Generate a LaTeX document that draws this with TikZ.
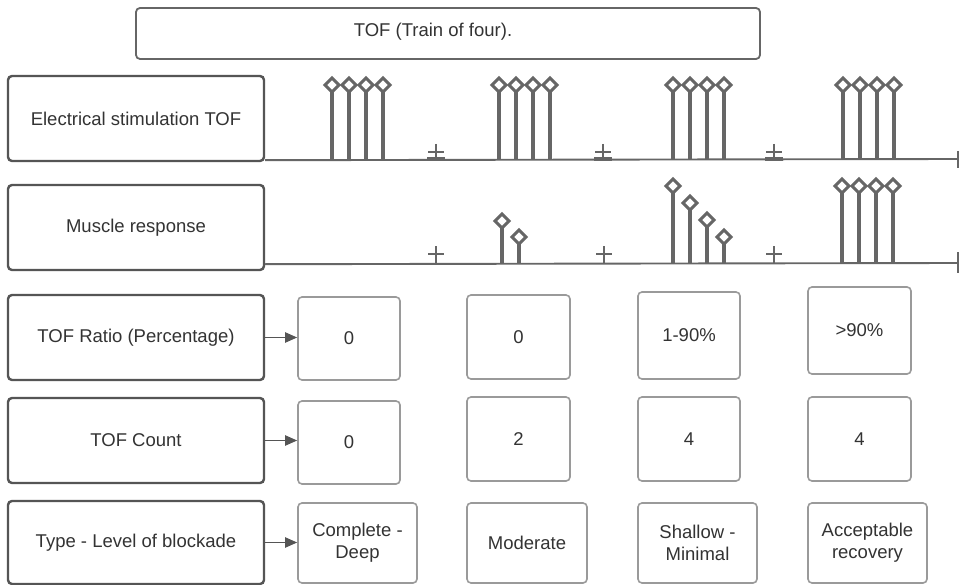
\documentclass[tikz,border=0pt]{standalone}
\usepackage{fontspec}
\setmainfont{Liberation Sans}
\usetikzlibrary{arrows.meta}
\definecolor{leftc}{HTML}{555555}
\definecolor{valc}{HTML}{9A9A9A}
\definecolor{stemc}{HTML}{666666}
\definecolor{txtc}{HTML}{333333}
\tikzset{
  lbl/.style={font=\fontsize{18.5}{22}\selectfont, text=txtc, align=center, inner sep=0pt},
  leftbox/.style={lbl, draw=leftc, line width=2.4pt, rounded corners=4pt, minimum width=256pt, minimum height=85pt},
  valbox/.style={lbl, draw=valc, line width=1.6pt, rounded corners=4pt},
  topbox/.style={draw=stemc, line width=1.8pt, rounded corners=4pt, minimum width=624pt, minimum height=51pt, inner sep=0pt},
  axisline/.style={draw=stemc, line width=1.9pt},
  stemline/.style={draw=stemc, line width=3.4pt},
  markline/.style={draw=stemc, line width=1.8pt},
  arrowline/.style={draw=leftc, line width=1.9pt, -{Triangle[length=12pt,width=10pt]}},
}
\newcommand{\stemat}[2]{%
  \draw[stemline] (#1,#2+7) -- (#1,\basey);
  \draw[stemc, line width=3pt, fill=white, line join=miter] (#1-7,#2) -- (#1,#2-7) -- (#1+7,#2) -- (#1,#2+7) -- cycle;
}
\begin{document}
\begin{tikzpicture}[x=1pt,y=-1pt]
\useasboundingbox (0,0) rectangle (960,585);
\fill[white] (0,0) rectangle (960,585);

% title
\node[topbox] (title) at (448,33.5) {};
\node[lbl] (titletext) at (433,32) {TOF (Train of four).};

% left column
\node[leftbox] (elec) at (136,118.5) {Electrical stimulation TOF};
\node[leftbox] (musc) at (136,227.5) {Muscle response};
\node[leftbox] (ratio) at (136,337.5) {TOF Ratio (Percentage)};
\node[leftbox] (count) at (136,440.5) {TOF Count};
\node[leftbox, minimum height=83pt] (type) at (136,542.5) {Type - Level of blockade};

% ratio row
\node[valbox, minimum width=102pt, minimum height=83pt] (r1) at (349,338.5) {0};
\node[valbox, minimum width=103pt, minimum height=84pt] (r2) at (518.5,337) {0};
\node[valbox, minimum width=102pt, minimum height=87pt] (r3) at (689,335.5) {1-90\%};
\node[valbox, minimum width=103pt, minimum height=87pt] (r4) at (859.5,330.5) {>90\%};

% count row
\node[valbox, minimum width=102pt, minimum height=83pt] (c1) at (349,442.5) {0};
\node[valbox, minimum width=103pt, minimum height=84pt] (c2) at (518.5,439) {2};
\node[valbox, minimum width=102pt, minimum height=84pt] (c3) at (689,439) {4};
\node[valbox, minimum width=103pt, minimum height=84pt] (c4) at (859.5,439) {4};

% type row
\node[valbox, minimum width=119pt, minimum height=80pt] (t1) at (357.5,543) {Complete -\\Deep};
\node[valbox, minimum width=120pt, minimum height=80pt] (t2) at (527,543) {Moderate};
\node[valbox, minimum width=119pt, minimum height=80pt] (t3) at (697.5,543) {Shallow -\\Minimal};
\node[valbox, minimum width=119pt, minimum height=80pt] (t4) at (867.5,543) {Acceptable\\recovery};

% arrows
\draw[arrowline] (ratio.east) -- (ratio.east -| r1.west);
\draw[arrowline] (count.east) -- (count.east -| c1.west);
\draw[arrowline] (type.east) -- (type.east -| t1.west);

% axes
\coordinate (eend) at (958,159);
\coordinate (mend) at (958,263);
\draw[axisline] (elec.south east) ++(0,-2) -- (eend);
\draw[markline] (958,151) -- (958,168);
\draw[axisline] (musc.south east) ++(0,-7) -- (mend);
\draw[markline] (958,252) -- (958,273);

\def\basey{159}
\foreach \x in {332,349,366,383, 499,516,533,550, 673,690,707,724, 843,860,877,894} {\stemat{\x}{85}}
\foreach \x in {436,603,774} {
  \draw[markline] (\x-8,152) -- (\x+8,152);
  \draw[markline] (\x,144) -- (\x,159);
  \draw[stemc, line width=3.2pt] (\x-9,159) -- (\x+9,159);
}

\def\basey{263}
\stemat{502}{221}
\stemat{519}{237}
\stemat{673}{186}
\stemat{690}{203}
\stemat{707}{220}
\stemat{724}{237}
\foreach \x in {842,859,876,893} {\stemat{\x}{186}}
\foreach \x in {436,604,774} {
  \draw[markline] (\x-8,254) -- (\x+8,254);
  \draw[markline] (\x,246) -- (\x,263);
}
\end{tikzpicture}
\end{document}
